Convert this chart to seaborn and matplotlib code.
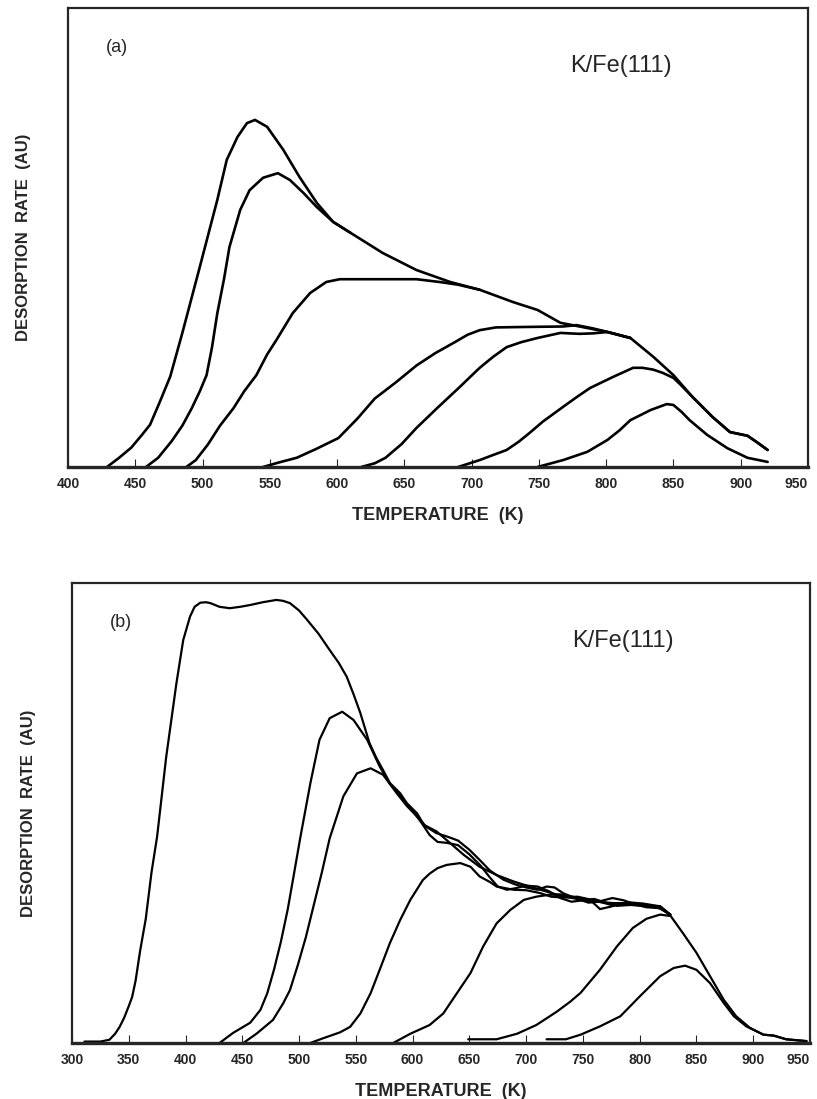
import numpy as np
import pandas as pd
import matplotlib
matplotlib.use("Agg")
import matplotlib.pyplot as plt
import seaborn as sns

# ---- panel (a): K/Fe(111) TPD traces ----
a1_T = [429, 438, 447, 455, 461, 468, 476, 485, 498, 511, 518, 526, 533, 539, 548, 560, 572, 585, 597,
        610, 634, 659, 684, 706, 731, 749, 766, 775, 801, 818, 835, 850, 864, 879, 892, 905, 912, 920]
a1_y = [0, 0.02, 0.042, 0.07, 0.092, 0.14, 0.197, 0.292, 0.436, 0.582, 0.669, 0.719, 0.749, 0.756, 0.741,
        0.691, 0.632, 0.575, 0.534, 0.51, 0.466, 0.429, 0.403, 0.386, 0.359, 0.342, 0.314, 0.309, 0.294,
        0.281, 0.24, 0.2, 0.153, 0.109, 0.076, 0.068, 0.054, 0.037]

a2_T = [458, 467, 477, 485, 492, 498, 503, 507, 511, 516, 520, 528, 535, 545, 556, 565, 575, 585, 597, 610]
a2_y = [0, 0.02, 0.056, 0.09, 0.128, 0.165, 0.2, 0.26, 0.335, 0.41, 0.479, 0.56, 0.603, 0.63, 0.64, 0.625,
        0.597, 0.566, 0.534, 0.51]

a3_T = [488, 495, 504, 513, 523, 531, 540, 548, 555, 567, 580, 592, 602, 634, 659, 676, 690, 706]
a3_y = [0, 0.015, 0.049, 0.09, 0.128, 0.165, 0.2, 0.245, 0.277, 0.335, 0.379, 0.403, 0.409, 0.409, 0.409,
        0.403, 0.397, 0.386]

a4_T = [545, 557, 570, 585, 601, 615, 628, 644, 659, 673, 687, 697, 706, 718, 740, 768, 778, 790, 801, 818]
a4_y = [0, 0.01, 0.02, 0.04, 0.063, 0.105, 0.149, 0.185, 0.221, 0.248, 0.271, 0.288, 0.298, 0.304, 0.305,
        0.306, 0.309, 0.302, 0.294, 0.281]

a5_T = [618, 628, 636, 648, 659, 675, 690, 706, 716, 726, 737, 749, 766, 780, 790, 801, 818]
a5_y = [0, 0.008, 0.02, 0.05, 0.085, 0.13, 0.171, 0.216, 0.24, 0.261, 0.272, 0.281, 0.292, 0.29, 0.291,
        0.294, 0.281]

a6_T = [690, 706, 715, 726, 735, 743, 753, 768, 778, 788, 805, 820, 827, 835, 842, 850, 855, 864, 879,
        892, 905, 912, 920]
a6_y = [0, 0.015, 0.025, 0.037, 0.055, 0.074, 0.099, 0.131, 0.152, 0.172, 0.196, 0.216, 0.216, 0.212,
        0.205, 0.194, 0.18, 0.153, 0.109, 0.076, 0.068, 0.054, 0.037]

a7_T = [749, 768, 786, 801, 810, 818, 833, 845, 850, 856, 862, 875, 890, 905, 920]
a7_y = [0, 0.015, 0.033, 0.059, 0.08, 0.102, 0.124, 0.137, 0.135, 0.12, 0.102, 0.07, 0.041, 0.02, 0.011]

# ---- panel (b) ----
b1_T = [311, 325, 333, 338, 342, 346, 350, 353, 356, 360, 365, 370, 375, 383, 392, 398, 404, 408, 413,
        418, 422, 430, 439, 448, 457, 468, 480, 486, 492, 500, 507, 517, 527, 535, 542, 548, 554, 562,
        568, 574, 580, 589, 595, 604, 610, 621, 630, 645, 659, 674, 689, 703, 718, 733, 748, 762, 777,
        792, 806, 818, 827, 838, 850, 862, 874, 885, 897, 909, 918, 929, 947]
b1_y = [0.003, 0.003, 0.007, 0.02, 0.035, 0.055, 0.08, 0.1, 0.135, 0.2, 0.27, 0.37, 0.449, 0.622, 0.782,
        0.876, 0.927, 0.948, 0.957, 0.958, 0.956, 0.948, 0.945, 0.948, 0.952, 0.958, 0.963, 0.961, 0.956,
        0.94, 0.92, 0.89, 0.854, 0.826, 0.796, 0.758, 0.717, 0.652, 0.62, 0.593, 0.565, 0.543, 0.521,
        0.499, 0.474, 0.46, 0.441, 0.409, 0.383, 0.365, 0.351, 0.34, 0.329, 0.318, 0.312, 0.307, 0.304,
        0.304, 0.296, 0.295, 0.277, 0.239, 0.196, 0.145, 0.094, 0.058, 0.033, 0.018, 0.016, 0.008, 0.004]

b2_T = [430, 442, 457, 466, 472, 478, 484, 490, 495, 501, 510, 518, 527, 538, 548, 560, 571, 580, 590,
        600, 608, 615, 622, 630, 640, 650, 660, 668, 675, 683, 690, 700, 710, 720, 730, 740, 750, 760,
        770, 780, 792, 806, 818, 827]
b2_y = [0, 0.022, 0.044, 0.072, 0.108, 0.16, 0.22, 0.29, 0.36, 0.445, 0.565, 0.659, 0.706, 0.72, 0.702,
        0.659, 0.601, 0.563, 0.535, 0.505, 0.478, 0.452, 0.437, 0.435, 0.43, 0.41, 0.385, 0.36, 0.34, 0.333,
        0.336, 0.342, 0.34, 0.33, 0.315, 0.307, 0.31, 0.313, 0.305, 0.298, 0.3, 0.297, 0.297, 0.279]

b3_T = [451, 463, 477, 486, 492, 499, 506, 513, 520, 527, 539, 551, 563, 574, 586, 595, 604, 612, 621,
        630, 640, 650, 659, 668, 680, 690, 700, 710, 718, 725, 733, 745, 755, 765, 776, 786, 795, 806,
        818, 827]
b3_y = [0, 0.021, 0.05, 0.086, 0.115, 0.17, 0.23, 0.3, 0.37, 0.445, 0.536, 0.586, 0.597, 0.583, 0.543,
        0.515, 0.492, 0.47, 0.456, 0.449, 0.44, 0.42, 0.398, 0.375, 0.355, 0.345, 0.338, 0.333, 0.34,
        0.338, 0.325, 0.313, 0.305, 0.308, 0.315, 0.31, 0.302, 0.295, 0.293, 0.279]

b4_T = [510, 521, 536, 545, 554, 563, 571, 580, 589, 598, 609, 615, 622, 630, 642, 651, 659, 668, 674,
        689, 700, 712, 722, 733, 745, 760, 775, 790, 806, 818, 827]
b4_y = [0, 0.01, 0.023, 0.035, 0.064, 0.108, 0.159, 0.217, 0.267, 0.311, 0.354, 0.368, 0.38, 0.387,
        0.391, 0.383, 0.362, 0.35, 0.34, 0.333, 0.332, 0.326, 0.318, 0.316, 0.318, 0.31, 0.3, 0.302,
        0.3, 0.292, 0.279]

b5_T = [583, 598, 615, 627, 639, 651, 662, 674, 686, 698, 709, 720, 730, 745, 759, 765, 774, 789, 803,
        818, 827]
b5_y = [0, 0.02, 0.039, 0.064, 0.108, 0.152, 0.209, 0.26, 0.289, 0.311, 0.318, 0.322, 0.323, 0.316,
        0.305, 0.291, 0.296, 0.306, 0.303, 0.297, 0.279]

b6_T = [649, 674, 692, 709, 727, 739, 748, 765, 780, 794, 806, 818, 827]
b6_y = [0.008, 0.008, 0.02, 0.039, 0.068, 0.09, 0.109, 0.159, 0.21, 0.25, 0.27, 0.279, 0.276]

b7_T = [718, 735, 748, 765, 783, 800, 818, 830, 840, 850, 862, 874, 883, 894, 909, 918, 929, 947]
b7_y = [0.008, 0.008, 0.018, 0.036, 0.058, 0.101, 0.145, 0.163, 0.168, 0.159, 0.13, 0.087, 0.058,
        0.036, 0.018, 0.016, 0.008, 0.004]

a_ticks = list(range(400, 951, 50))
b_ticks = list(range(300, 951, 50))
x_label = "TEMPERATURE  (K)"
y_label = "DESORPTION  RATE  (AU)"
system = "K/Fe(111)"

sns.set_style("ticks")
plt.rcParams["font.family"] = ["Liberation Sans", "DejaVu Sans"]


def to_frame(curves):
    rows = []
    for i, (T, y) in enumerate(curves):
        rows.append(pd.DataFrame({"T": T, "rate": y, "run": i}))
    return pd.concat(rows, ignore_index=True)


def draw(ax, curves, ticks, tag, lw, ylab_x):
    df = to_frame(curves)
    for run, d in df.groupby("run"):
        sns.lineplot(data=d, x="T", y="rate", ax=ax, color="black", lw=lw,
                     sort=False, estimator=None, solid_joinstyle="round")
    ax.set_xlim(ticks[0], ticks[-1])
    ax.set_ylim(0, 1)
    ax.set_xticks(ticks)
    ax.set_yticks([])
    ax.tick_params(axis="x", direction="in", length=6, width=0.8, pad=7, labelsize=10)
    for lab in ax.get_xticklabels():
        lab.set_fontweight("bold")
    # last label kept inside the figure edge
    ax.get_xticklabels()[-1].set_horizontalalignment("right")
    for s in ["top", "right", "left"]:
        ax.spines[s].set_linewidth(1.6)
    ax.spines["bottom"].set_linewidth(2.4)
    ax.set_xlabel(x_label, fontsize=13, fontweight="bold")
    ax.set_ylabel(y_label, fontsize=12, fontweight="bold")
    ax.xaxis.set_label_coords(0.5, -0.087)
    ax.yaxis.set_label_coords(ylab_x, 0.5)
    ax.text(0.066, 0.914, tag, transform=ax.transAxes, fontsize=13, ha="center", va="center")
    ax.text(0.747, 0.874, system, transform=ax.transAxes, fontsize=17, ha="center", va="center")


fig = plt.figure(figsize=(8.17, 10.99), dpi=100)
ax_a = fig.add_axes([0.0832, 0.5751, 0.9058, 0.4177])
ax_b = fig.add_axes([0.0881, 0.0510, 0.9033, 0.4186])

draw(ax_a, [(a1_T, a1_y), (a2_T, a2_y), (a3_T, a3_y), (a4_T, a4_y),
            (a5_T, a5_y), (a6_T, a6_y), (a7_T, a7_y)], a_ticks, "(a)", 1.9, -0.05)
draw(ax_b, [(b1_T, b1_y), (b2_T, b2_y), (b3_T, b3_y), (b4_T, b4_y),
            (b5_T, b5_y), (b6_T, b6_y), (b7_T, b7_y)], b_ticks, "(b)", 1.6, -0.049)

fig.savefig("out.png", dpi=100)
